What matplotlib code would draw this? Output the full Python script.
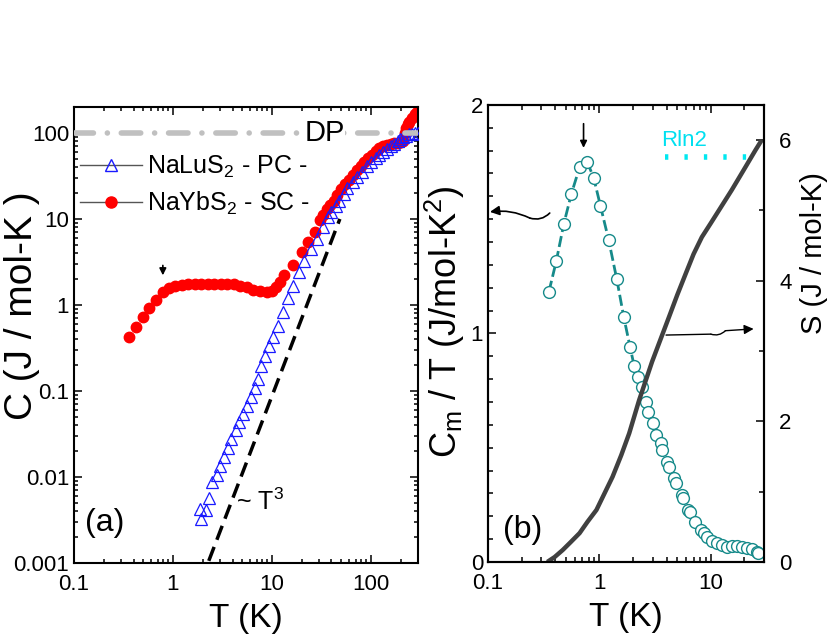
import matplotlib
matplotlib.use('Agg')
import matplotlib.pyplot as plt
import numpy as np
from matplotlib.ticker import MultipleLocator, LogLocator, NullFormatter
from matplotlib.lines import Line2D

plt.rcParams['font.family'] = ['Liberation Sans', 'DejaVu Sans']
plt.rcParams['mathtext.fontset'] = 'custom'
plt.rcParams['mathtext.rm'] = 'Liberation Sans'
plt.rcParams['mathtext.it'] = 'Liberation Sans'

# (a) NaYbS2 single crystal
T_yb = [0.36, 0.42, 0.50, 0.57, 0.67, 0.79, 0.91, 1.05, 1.23, 1.43, 1.66, 1.93, 2.25, 2.62,
        3.05, 3.55, 4.13, 4.8, 5.6, 6.5, 7.6, 8.9, 10.0, 11.0, 12.0, 13.4, 16.4, 20.0, 23.3,
        27.3, 30.6, 33, 36, 39, 42, 46, 50, 55, 60, 66, 72, 79, 86, 94, 103, 112, 122, 133,
        145, 158, 172, 187, 200, 210, 220, 228, 235, 245, 260, 280, 295]
C_yb = [0.42, 0.55, 0.72, 0.92, 1.14, 1.40, 1.57, 1.64, 1.70, 1.73, 1.75, 1.76, 1.76, 1.76,
        1.76, 1.75, 1.73, 1.68, 1.60, 1.50, 1.44, 1.41, 1.45, 1.6, 1.85, 2.2, 2.9, 4.1, 5.4,
        7.1, 9.7, 11.2, 13.0, 14.7, 16.3, 19.0, 22.0, 25.5, 28.5, 32.5, 37, 41, 46, 51, 56,
        61, 66, 70, 73, 75, 76, 77, 78, 80, 100, 115, 127, 135, 150, 165, 175]

# (a) NaLuS2 polycrystal (phonon reference)
T_lu = [1.88, 1.92, 2.15, 2.3, 2.5, 2.8, 2.97, 3.3, 3.6, 3.9, 4.3, 4.6, 5.1, 5.6, 6.1, 6.7,
        7.2, 7.7, 8.5, 9.3, 10.2, 11.5, 12.9, 14.5, 16.5, 18.8, 21.2, 24.6, 28.5, 33, 37,
        40, 44, 48, 53, 58, 66, 73, 81, 91, 101, 112, 122, 133, 145, 158, 172, 187, 197,
        210, 225, 245, 260, 280, 300]
C_lu = [0.0042, 0.00325, 0.0041, 0.0057, 0.0087, 0.0104, 0.0134, 0.017, 0.0218, 0.0279,
        0.0354, 0.0436, 0.054, 0.067, 0.085, 0.108, 0.138, 0.195, 0.255, 0.33, 0.42, 0.57,
        0.83, 1.2, 1.66, 2.4, 3.25, 4.5, 5.9, 8.1, 10.6, 12, 14.2, 16, 19.5, 23, 27, 31,
        35.5, 41, 46, 51, 55.5, 60, 65, 70, 75, 80, 85, 89, 93, 97, 98, 99, 100]

T3_range = [2.3, 48.6]
T3_coef = 8.7e-5
C_DP = 100

# (b) magnetic Cm/T and entropy
T_cm = [0.352, 0.41, 0.478, 0.559, 0.663, 0.776, 0.89, 1.02, 1.21, 1.43, 1.65, 1.88, 2.05,
        2.23, 2.39, 2.61, 2.75, 3.05, 3.24, 3.55, 3.63, 4.08, 4.17, 4.68, 4.84, 5.47, 5.65,
        6.24, 6.55, 7.2, 8.1, 8.64, 9.25, 10.2, 11.3, 12.6, 14.0, 15.5, 17.1, 19.0, 21.1,
        23.4, 25.9, 26.5]
CmT = [1.183, 1.317, 1.478, 1.61, 1.727, 1.752, 1.679, 1.559, 1.409, 1.238, 1.074, 0.942,
       0.858, 0.808, 0.765, 0.70, 0.658, 0.607, 0.556, 0.519, 0.49, 0.439, 0.417, 0.366,
       0.344, 0.293, 0.279, 0.228, 0.22, 0.176, 0.14, 0.128, 0.111, 0.092, 0.082, 0.074,
       0.067, 0.07, 0.071, 0.067, 0.06, 0.056, 0.045, 0.038]
n_dashed = 15

T_S = [0.34, 0.396, 0.468, 0.55, 0.663, 0.78, 0.94, 1.31, 1.57, 1.85, 2.27, 2.97, 4.2,
       5.0, 5.98, 7.0, 8.3, 10.0, 11.8, 15.4, 20.5, 25.2, 28.6]
S = [0.0, 0.07, 0.17, 0.28, 0.41, 0.57, 0.74, 1.21, 1.52, 1.83, 2.3, 2.85, 3.48,
     3.8, 4.11, 4.38, 4.62, 4.82, 5.0, 5.29, 5.62, 5.86, 6.0]
Rln2 = 8.314 * np.log(2)
T_rln2 = [3.9, 23.0]

fig = plt.figure(figsize=(8.3, 6.36), dpi=100)
ax1 = fig.add_axes([0.0892, 0.1148, 0.4145, 0.717])
ax2 = fig.add_axes([0.588, 0.1164, 0.3325, 0.7186])
ax3 = ax2.twinx()

# ---------- panel (a) ----------
ax1.plot(T_yb, C_yb, 'o', color='#ff0000', ms=7.5, mec='#ff0000', zorder=2)
ax1.plot(T_lu, C_lu, '^', color='#1a1aff', ms=8.5, mfc='none', mew=0.9, zorder=3)
tt = np.array(T3_range)
ax1.plot(tt, T3_coef * tt**3, color='black', lw=2.5, dashes=(4.3, 2.2), zorder=4)
ax1.axhline(C_DP, color='#c0c0c0', lw=4, dashes=(3.5, 2.5, 0.01, 2.5),
            dash_capstyle='round', zorder=5)
ax1.text(0.67, C_DP, 'DP', fontsize=21, va='center', ha='left',
         transform=ax1.get_yaxis_transform(), bbox=dict(fc='white', ec='none', pad=0), zorder=6)

ax1.set_xscale('log')
ax1.set_yscale('log')
ax1.set_xlim(0.1, 300)
ax1.set_ylim(0.001, 200)
ax1.set_xticks([0.1, 1, 10, 100])
ax1.set_xticklabels(['0.1', '1', '10', '100'])
ax1.set_yticks([0.001, 0.01, 0.1, 1, 10, 100])
ax1.set_yticklabels(['0.001', '0.01', '0.1', '1', '10', '100'])
ax1.xaxis.set_minor_locator(LogLocator(base=10, subs=np.arange(2, 10)))
ax1.yaxis.set_minor_locator(LogLocator(base=10, subs=np.arange(2, 10)))
ax1.xaxis.set_minor_formatter(NullFormatter())
ax1.yaxis.set_minor_formatter(NullFormatter())
ax1.set_xlabel('T (K)', fontsize=24, labelpad=6)
ax1.set_ylabel('C (J / mol-K )', fontsize=28)
ax1.yaxis.set_label_coords(-0.1, 0.565)

ax1.annotate('', xy=(0.79, 2.05), xytext=(0.79, 3.1),
             arrowprops=dict(arrowstyle='-|>', color='black', lw=1.2, mutation_scale=10))
ax1.text(4.3, 0.0052, r'~ T$^3$', fontsize=18, va='center')
ax1.text(0.13, 0.0029, '(a)', fontsize=23, va='center')

handles = [Line2D([], [], color='#555555', lw=1, marker='^', ms=8.5, mfc='none', mec='#1a1aff'),
           Line2D([], [], color='#555555', lw=1, marker='o', ms=8, mfc='#ff0000', mec='#ff0000')]
ax1.legend(handles, [r'NaLuS$_2$ - PC -', r'NaYbS$_2$ - SC -'], loc='upper left',
           bbox_to_anchor=(-0.02, 0.925), frameon=False, fontsize=18, handlelength=2.5,
           handletextpad=0.2, labelspacing=0.4, borderaxespad=0.1)

# ---------- panel (b) ----------
ax2.plot(T_cm[:n_dashed], CmT[:n_dashed], color='#168a8a', lw=2, dashes=(4, 1.5), zorder=2)
ax2.plot(T_cm, CmT, 'o', mfc='white', mec='#168a8a', ms=8.5, mew=1.0, zorder=3)
ax2.set_xscale('log')
ax2.set_xlim(0.1, 30)
ax2.set_ylim(0, 2)
ax2.set_xticks([0.1, 1, 10])
ax2.set_xticklabels(['0.1', '1', '10'])
ax2.xaxis.set_minor_locator(LogLocator(base=10, subs=np.arange(2, 10)))
ax2.xaxis.set_minor_formatter(NullFormatter())
ax2.set_yticks([0, 1, 2])
ax2.yaxis.set_minor_locator(MultipleLocator(0.1))
ax2.set_xlabel('T (K)', fontsize=24, labelpad=6)
ax2.set_ylabel(r'C$_\mathregular{m}$ / T (J/mol-K$^2$)', fontsize=26)
ax2.yaxis.set_label_coords(-0.075, 0.525)

ax3.plot(T_S, S, color='#404040', lw=3.2, zorder=2, solid_capstyle='butt')
ax3.plot(T_rln2, [Rln2, Rln2], color='#00e8f0', lw=4, dashes=(0.6, 2.9), zorder=2)
ax3.text(3.6, 6.0, 'Rln2', color='#00e0f0', fontsize=16, va='center')
ax3.set_ylim(0, 6.5)
ax3.set_yticks([0, 2, 4, 6])
ax3.yaxis.set_minor_locator(MultipleLocator(1))
ax3.set_ylabel('S (J / mol-K)', fontsize=21)
ax3.yaxis.set_label_coords(1.13, 0.675)

ax2.annotate('', xy=(0.72, 1.80), xytext=(0.72, 1.93),
             arrowprops=dict(arrowstyle='-|>', color='black', lw=1.2, mutation_scale=10))
# wiggly pointer arrows (two pieces each)
ax2.annotate('', xy=(0.237, 1.505), xytext=(0.358, 1.527),
             arrowprops=dict(arrowstyle='-', color='black', lw=1.2,
                             connectionstyle='arc3,rad=-0.3', shrinkA=0, shrinkB=0))
ax2.annotate('', xy=(0.104, 1.532), xytext=(0.237, 1.505),
             arrowprops=dict(arrowstyle='-|>', color='black', lw=1.2, mutation_scale=14,
                             connectionstyle='arc3,rad=0.15', shrinkA=0, shrinkB=0))
ax2.annotate('', xy=(10.0, 0.997), xytext=(3.96, 0.993),
             arrowprops=dict(arrowstyle='-', color='black', lw=1.0, shrinkA=0, shrinkB=0))
ax2.annotate('', xy=(13.5, 1.012), xytext=(10.0, 0.997),
             arrowprops=dict(arrowstyle='-', color='black', lw=1.0,
                             connectionstyle='arc3,rad=0.3', shrinkA=0, shrinkB=0))
ax2.annotate('', xy=(24.2, 1.02), xytext=(13.5, 1.012),
             arrowprops=dict(arrowstyle='-|>', color='black', lw=1.0, mutation_scale=14,
                             shrinkA=0, shrinkB=0))
ax2.text(0.135, 0.14, '(b)', fontsize=23, va='center')

for ax in (ax1, ax2, ax3):
    for sp in ax.spines.values():
        sp.set_linewidth(1.5)
ax1.tick_params(which='both', direction='in', top=True, right=True, labelsize=16, width=1.1)
ax1.tick_params(which='major', length=6)
ax1.tick_params(which='minor', length=3)
ax1.tick_params(axis='x', which='major', pad=8)
ax2.tick_params(which='both', direction='in', top=True, right=False, labelsize=16, width=1.1)
ax2.tick_params(which='major', length=6)
ax2.tick_params(which='minor', length=3.5)
ax2.tick_params(axis='x', which='major', pad=8)
ax3.tick_params(which='both', direction='in', labelsize=16, width=1.1)
ax3.tick_params(which='major', length=6, pad=11)
ax3.tick_params(which='minor', length=3.5)

fig.savefig('out.png', dpi=100)
